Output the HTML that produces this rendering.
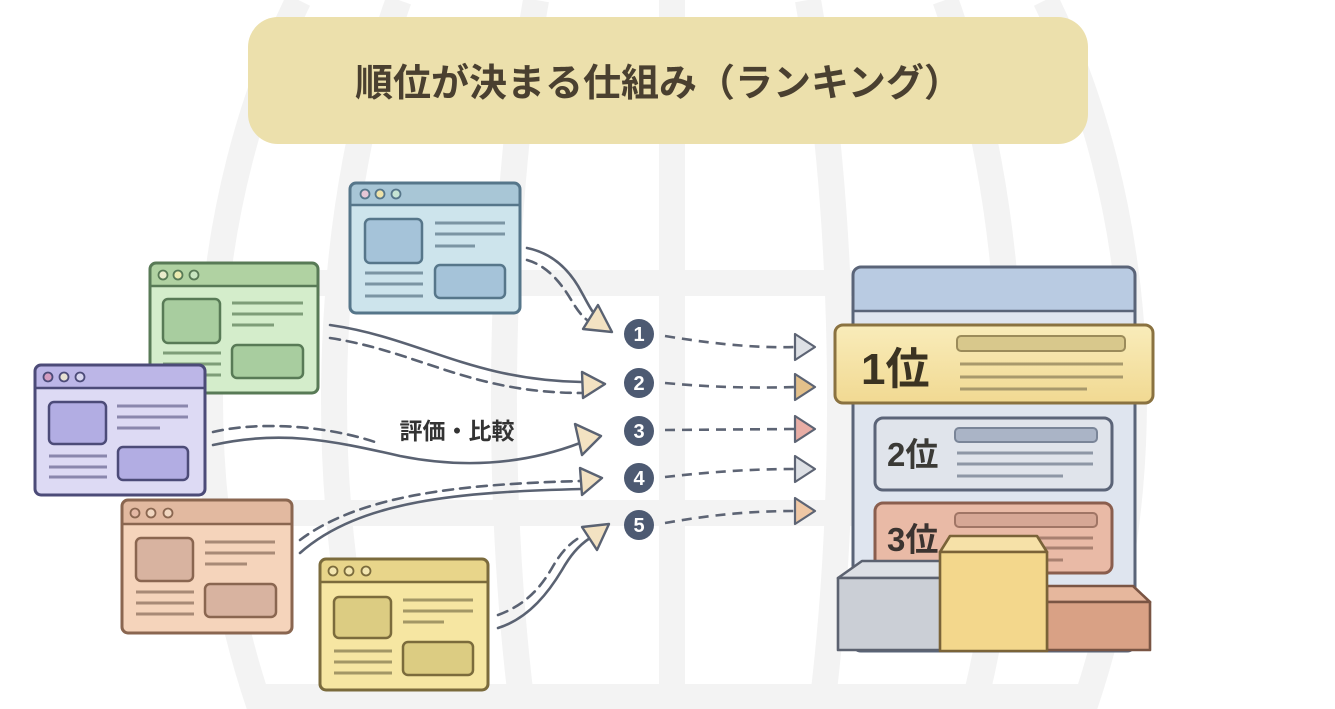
<!DOCTYPE html>
<html>
<head>
<meta charset="utf-8">
<style>
html,body{margin:0;padding:0;background:#ffffff;width:1335px;height:709px;overflow:hidden;}
svg{display:block;position:absolute;left:0;top:0;}
text{font-family:"Liberation Sans","Noto Sans CJK JP",sans-serif;font-weight:bold;}
</style>
</head>
<body>
<svg width="1335" height="709" viewBox="0 0 1335 709" xmlns="http://www.w3.org/2000/svg">
<defs>
  <linearGradient id="g1" x1="0" y1="0" x2="0" y2="1">
    <stop offset="0" stop-color="#f9ecba"/><stop offset="1" stop-color="#f1d992"/>
  </linearGradient>
</defs>

<!-- background globe -->
<g fill="none" stroke="#f3f3f3" stroke-width="26">
  <path d="M298.4 0 A462 680 0 0 0 260.5 709"/>
  <path d="M1045.6 0 A462 680 0 0 1 1083.5 709"/>
  <path d="M398.7 0 A338 680 0 0 0 370.9 709"/>
  <path d="M945.3 0 A338 680 0 0 1 973.1 709"/>
  <path d="M536.1 0 A168 680 0 0 0 522.3 709"/>
  <path d="M807.9 0 A168 680 0 0 1 821.7 709"/>
  <line x1="672" y1="0" x2="672" y2="709"/>
  <line x1="212" y1="283" x2="1132" y2="283"/>
  <line x1="214" y1="513" x2="1130" y2="513"/>
  <line x1="255" y1="697" x2="1089" y2="697"/>
</g>

<!-- title -->
<rect x="248" y="17" width="840" height="127" rx="30" fill="#ece0ac"/>
<text x="355" y="96" font-size="38" fill="#4a4030">順位が決まる仕組み（ランキング）</text>

<!-- connectors left -->
<g fill="none" stroke="#5a6272" stroke-width="2.6" stroke-linecap="round">
  <path d="M527 248 C552 253 570 270 582 293 C587 302 590 308 593 312"/>
  <path d="M527 260 C548 266 562 284 573 303 C578 311 582 316 587 320" stroke-dasharray="10 7"/>
  <path d="M330 325 C420 338 470 380 582 382"/>
  <path d="M330 338 C420 352 470 393 582 393" stroke-dasharray="10 7"/>
  <path d="M213 445 C280 430 330 440 400 456 C470 470 530 462 580 443"/>
  <path d="M213 432 C255 422 320 424 375 442" stroke-dasharray="10 7"/>
  <path d="M300 553 C360 500 460 492 582 489"/>
  <path d="M300 540 C360 495 460 484 582 481" stroke-dasharray="10 7"/>
  <path d="M498 628 C530 618 550 590 562 570 C570 556 578 546 590 538"/>
  <path d="M498 615 C528 604 542 585 552 568 C560 554 568 544 582 536" stroke-dasharray="10 7"/>
</g>
<g fill="#f3e2c2" stroke="#5a6272" stroke-width="2.4" stroke-linejoin="round">
  <polygon points="598,305 612,332 583,329"/>
  <polygon points="582,372 605,384 583,398"/>
  <polygon points="575,424 601,436 582,455"/>
  <polygon points="580,468 602,478 582,495"/>
  <polygon points="582,527 609,524 597,550"/>
</g>

<text x="457" y="439" font-size="23" fill="#333333" text-anchor="middle">評価・比較</text>

<!-- right dashed connectors -->
<g fill="none" stroke="#5d6474" stroke-width="2.6" stroke-dasharray="10 7">
  <path d="M665 336 C720 345 760 348 795 347"/>
  <path d="M665 383 C720 388 760 388 795 387"/>
  <path d="M665 430 L795 429"/>
  <path d="M665 477 C710 472 750 469 795 469"/>
  <path d="M665 523 C710 515 750 511 795 511"/>
</g>
<g stroke="#5d6474" stroke-width="2.2" stroke-linejoin="round">
  <polygon points="795,334 815,347 795,360" fill="#dde0e5"/>
  <polygon points="795,374 815,387 795,400" fill="#e3c08a"/>
  <polygon points="795,416 815,429 795,442" fill="#e8ada5"/>
  <polygon points="795,456 815,469 795,482" fill="#dde0e5"/>
  <polygon points="795,498 815,511 795,524" fill="#efc7a4"/>
</g>

<!-- number circles -->
<g fill="#4d5a72">
  <circle cx="639" cy="334" r="15"/>
  <circle cx="639" cy="383" r="15"/>
  <circle cx="639" cy="431" r="15"/>
  <circle cx="639" cy="478" r="15"/>
  <circle cx="639" cy="525" r="15"/>
</g>
<g fill="#ffffff" font-size="20" text-anchor="middle">
  <text x="639" y="341">1</text>
  <text x="639" y="390">2</text>
  <text x="639" y="438">3</text>
  <text x="639" y="485">4</text>
  <text x="639" y="532">5</text>
</g>

<!-- browser cards -->
<g transform="translate(350,183)">
  <rect x="0" y="0" width="170" height="130" rx="6" fill="#cde4ec"/>
  <path d="M6 0 H164 A6 6 0 0 1 170 6 V22 H0 V6 A6 6 0 0 1 6 0 Z" fill="#a8c6d6"/>
  <rect x="0" y="0" width="170" height="130" rx="6" fill="none" stroke="#56768a" stroke-width="3"/>
  <line x1="0" y1="22" x2="170" y2="22" stroke="#56768a" stroke-width="2.5"/>
  <circle cx="15" cy="11" r="4.5" fill="#e6c6d6" stroke="#56768a" stroke-width="1.8"/>
  <circle cx="30" cy="11" r="4.5" fill="#eee2a8" stroke="#56768a" stroke-width="1.8"/>
  <circle cx="46" cy="11" r="4.5" fill="#c6e4d4" stroke="#56768a" stroke-width="1.8"/>
  <rect x="15" y="36" width="57" height="44" rx="5" fill="#a5c3d9" stroke="#56768a" stroke-width="2.5"/>
  <rect x="85" y="82" width="70" height="33" rx="5" fill="#a5c3d9" stroke="#56768a" stroke-width="2.5"/>
  <g stroke="#7b95a3" stroke-width="3">
    <line x1="85" y1="40" x2="155" y2="40"/><line x1="85" y1="51" x2="155" y2="51"/><line x1="85" y1="63" x2="125" y2="63"/>
    <line x1="15" y1="90" x2="73" y2="90"/><line x1="15" y1="101" x2="73" y2="101"/><line x1="15" y1="113" x2="73" y2="113"/>
  </g>
</g>
<g transform="translate(150,263)">
  <rect x="0" y="0" width="168" height="130" rx="6" fill="#d4edcb"/>
  <path d="M6 0 H162 A6 6 0 0 1 168 6 V22 H0 V6 A6 6 0 0 1 6 0 Z" fill="#b0d2a2"/>
  <rect x="0" y="0" width="168" height="130" rx="6" fill="none" stroke="#587a56" stroke-width="3"/>
  <line x1="0" y1="23" x2="168" y2="23" stroke="#587a56" stroke-width="2.5"/>
  <circle cx="13" cy="12" r="4.5" fill="#e9eccc" stroke="#587a56" stroke-width="1.8"/>
  <circle cx="28" cy="12" r="4.5" fill="#ecebb0" stroke="#587a56" stroke-width="1.8"/>
  <circle cx="44" cy="12" r="4.5" fill="#c8e6c0" stroke="#587a56" stroke-width="1.8"/>
  <rect x="13" y="36" width="57" height="44" rx="5" fill="#a8cd9f" stroke="#587a56" stroke-width="2.5"/>
  <rect x="82" y="82" width="71" height="33" rx="5" fill="#a8cd9f" stroke="#587a56" stroke-width="2.5"/>
  <g stroke="#7e9d78" stroke-width="3">
    <line x1="82" y1="40" x2="153" y2="40"/><line x1="82" y1="51" x2="153" y2="51"/><line x1="82" y1="62" x2="124" y2="62"/>
    <line x1="13" y1="90" x2="71" y2="90"/><line x1="13" y1="101" x2="71" y2="101"/><line x1="13" y1="112" x2="71" y2="112"/>
  </g>
</g>
<g transform="translate(35,365)">
  <rect x="0" y="0" width="170" height="130" rx="6" fill="#dddaf4"/>
  <path d="M6 0 H164 A6 6 0 0 1 170 6 V23 H0 V6 A6 6 0 0 1 6 0 Z" fill="#bcb6e7"/>
  <rect x="0" y="0" width="170" height="130" rx="6" fill="none" stroke="#4c4b78" stroke-width="3"/>
  <line x1="0" y1="23" x2="170" y2="23" stroke="#4c4b78" stroke-width="2.5"/>
  <circle cx="13" cy="12" r="4.5" fill="#d49cc0" stroke="#4c4b78" stroke-width="1.8"/>
  <circle cx="29" cy="12" r="4.5" fill="#e6e0d2" stroke="#4c4b78" stroke-width="1.8"/>
  <circle cx="45" cy="12" r="4.5" fill="#d8d6ee" stroke="#4c4b78" stroke-width="1.8"/>
  <rect x="14" y="37" width="57" height="42" rx="5" fill="#b2ade3" stroke="#4c4b78" stroke-width="2.5"/>
  <rect x="83" y="82" width="70" height="33" rx="5" fill="#b2ade3" stroke="#4c4b78" stroke-width="2.5"/>
  <g stroke="#8a87ad" stroke-width="3">
    <line x1="82" y1="41" x2="153" y2="41"/><line x1="82" y1="52" x2="153" y2="52"/><line x1="82" y1="63" x2="125" y2="63"/>
    <line x1="14" y1="91" x2="72" y2="91"/><line x1="14" y1="102" x2="72" y2="102"/><line x1="14" y1="112" x2="72" y2="112"/>
  </g>
</g>
<g transform="translate(122,500)">
  <rect x="0" y="0" width="170" height="133" rx="6" fill="#f5d4bb"/>
  <path d="M6 0 H164 A6 6 0 0 1 170 6 V24 H0 V6 A6 6 0 0 1 6 0 Z" fill="#e2b9a0"/>
  <rect x="0" y="0" width="170" height="133" rx="6" fill="none" stroke="#8a6650" stroke-width="3"/>
  <line x1="0" y1="24" x2="170" y2="24" stroke="#8a6650" stroke-width="2.5"/>
  <circle cx="13" cy="13" r="4.5" fill="#e4b8a4" stroke="#8a6650" stroke-width="1.8"/>
  <circle cx="29" cy="13" r="4.5" fill="#f0d6c0" stroke="#8a6650" stroke-width="1.8"/>
  <circle cx="46" cy="13" r="4.5" fill="#f0d6c0" stroke="#8a6650" stroke-width="1.8"/>
  <rect x="14" y="38" width="57" height="43" rx="5" fill="#d8b3a0" stroke="#8a6650" stroke-width="2.5"/>
  <rect x="83" y="84" width="71" height="33" rx="5" fill="#d8b3a0" stroke="#8a6650" stroke-width="2.5"/>
  <g stroke="#a88a76" stroke-width="3">
    <line x1="83" y1="42" x2="153" y2="42"/><line x1="83" y1="53" x2="153" y2="53"/><line x1="83" y1="64" x2="125" y2="64"/>
    <line x1="14" y1="92" x2="72" y2="92"/><line x1="14" y1="103" x2="72" y2="103"/><line x1="14" y1="114" x2="72" y2="114"/>
  </g>
</g>
<g transform="translate(320,559)">
  <rect x="0" y="0" width="168" height="131" rx="6" fill="#f6e6a2"/>
  <path d="M6 0 H162 A6 6 0 0 1 168 6 V23 H0 V6 A6 6 0 0 1 6 0 Z" fill="#e8d58a"/>
  <rect x="0" y="0" width="168" height="131" rx="6" fill="none" stroke="#7b6b3c" stroke-width="3"/>
  <line x1="0" y1="23" x2="168" y2="23" stroke="#7b6b3c" stroke-width="2.5"/>
  <circle cx="13" cy="12" r="4.5" fill="#f3e6b0" stroke="#7b6b3c" stroke-width="1.8"/>
  <circle cx="29" cy="12" r="4.5" fill="#f3e6b0" stroke="#7b6b3c" stroke-width="1.8"/>
  <circle cx="46" cy="12" r="4.5" fill="#f3e6b0" stroke="#7b6b3c" stroke-width="1.8"/>
  <rect x="14" y="38" width="57" height="41" rx="5" fill="#dccc82" stroke="#7b6b3c" stroke-width="2.5"/>
  <rect x="83" y="83" width="70" height="33" rx="5" fill="#dccc82" stroke="#7b6b3c" stroke-width="2.5"/>
  <g stroke="#a39765" stroke-width="3">
    <line x1="83" y1="41" x2="153" y2="41"/><line x1="83" y1="52" x2="153" y2="52"/><line x1="83" y1="63" x2="124" y2="63"/>
    <line x1="14" y1="92" x2="72" y2="92"/><line x1="14" y1="103" x2="72" y2="103"/><line x1="14" y1="114" x2="72" y2="114"/>
  </g>
</g>

<!-- ranking panel -->
<rect x="853" y="267" width="282" height="384" rx="8" fill="#dfe5ef"/>
<path d="M861 267 H1127 A8 8 0 0 1 1135 275 V311 H853 V275 A8 8 0 0 1 861 267 Z" fill="#b9cbe2"/>
<rect x="853" y="267" width="282" height="384" rx="8" fill="none" stroke="#5a6478" stroke-width="3"/>
<line x1="853" y1="311" x2="1135" y2="311" stroke="#5a6478" stroke-width="2.5"/>

<rect x="835" y="325" width="318" height="78" rx="8" fill="url(#g1)" stroke="#8a7240" stroke-width="3"/>
<text x="861" y="384" font-size="44" fill="#3b3322">1位</text>
<rect x="957" y="336" width="168" height="15" rx="4" fill="#d8c88c" stroke="#9b8b5a" stroke-width="2"/>
<g stroke="#a8996c" stroke-width="3">
  <line x1="960" y1="364" x2="1123" y2="364"/>
  <line x1="960" y1="377" x2="1123" y2="377"/>
  <line x1="960" y1="389" x2="1087" y2="389"/>
</g>

<rect x="875" y="418" width="237" height="72" rx="8" fill="#e0e4eb" stroke="#5b6478" stroke-width="3"/>
<text x="887" y="466" font-size="33" fill="#3b3a36">2位</text>
<rect x="955" y="428" width="142" height="14" rx="4" fill="#aab4c6" stroke="#7a8598" stroke-width="2"/>
<g stroke="#8e97a6" stroke-width="3">
  <line x1="957" y1="453" x2="1093" y2="453"/>
  <line x1="957" y1="464" x2="1093" y2="464"/>
  <line x1="957" y1="476" x2="1063" y2="476"/>
</g>

<rect x="875" y="503" width="237" height="70" rx="8" fill="#e9baa6" stroke="#8a5e4e" stroke-width="3"/>
<text x="887" y="551" font-size="33" fill="#3b3330">3位</text>
<rect x="955" y="513" width="142" height="14" rx="4" fill="#d6a795" stroke="#a07565" stroke-width="2"/>
<g stroke="#a88070" stroke-width="3">
  <line x1="957" y1="538" x2="1093" y2="538"/>
  <line x1="957" y1="548" x2="1093" y2="548"/>
  <line x1="957" y1="560" x2="1063" y2="560"/>
</g>

<!-- podium -->
<g stroke-width="2.6" stroke-linejoin="round">
  <polygon points="838,578 862,561 942,561 942,578" fill="#dde0e5" stroke="#5c6270"/>
  <rect x="838" y="578" width="104" height="72" fill="#cbcfd6" stroke="#5c6270"/>
  <polygon points="1047,602 1047,586 1133,586 1150,602" fill="#e6b79d" stroke="#7a5544"/>
  <rect x="1047" y="602" width="103" height="48" fill="#d9a185" stroke="#7a5544"/>
  <polygon points="940,552 950,536 1037,536 1047,552" fill="#f6e1a8" stroke="#7a6338"/>
  <rect x="940" y="552" width="107" height="99" fill="#f3d78c" stroke="#7a6338"/>
</g>
</svg>
</body>
</html>
